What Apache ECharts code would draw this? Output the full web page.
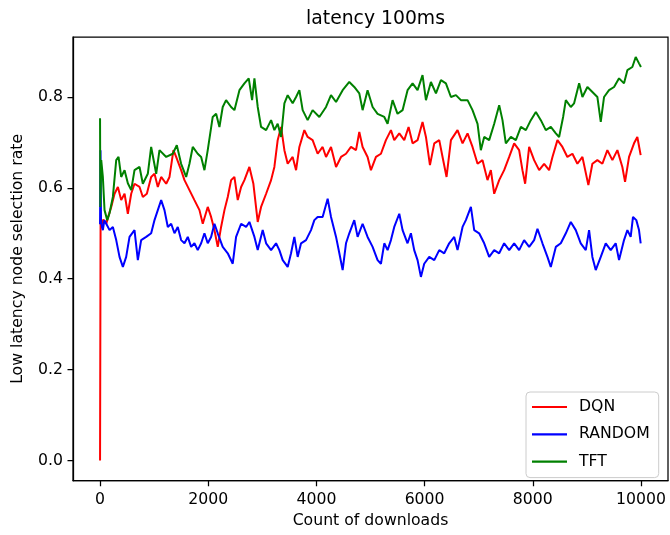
<!DOCTYPE html>
<html>
<head>
<meta charset="utf-8">
<script src="https://cdn.jsdelivr.net/npm/echarts@6/dist/echarts.min.js"></script>
<style>html,body{margin:0;padding:0;background:#fff}#c{width:670px;height:535px}</style>
</head>
<body>
<div id="c"></div>
<script>
var xTicks = [0, 2000, 4000, 6000, 8000, 10000];
var yTicks = [0.0, 0.2, 0.4, 0.6, 0.8];
var seriesNames = ['DQN', 'RANDOM', 'TFT'];

var dqn = [[0,0.0],[10,0.53],[30,0.52],[60,0.53],[115,0.521],[160,0.54],[207,0.558],[268,0.587],[330,0.602],[391,0.573],[453,0.587],[514,0.543],[576,0.587],[637,0.609],[730,0.602],[791,0.580],[865,0.587],[945,0.624],[1007,0.631],[1068,0.602],[1130,0.624],[1223,0.609],[1284,0.624],[1357,0.683],[1407,0.668],[1499,0.639],[1561,0.617],[1653,0.595],[1745,0.573],[1838,0.551],[1899,0.521],[1991,0.558],[2053,0.536],[2115,0.507],[2176,0.470],[2238,0.514],[2300,0.551],[2361,0.580],[2423,0.617],[2484,0.624],[2546,0.573],[2608,0.602],[2669,0.617],[2761,0.646],[2835,0.609],[2915,0.525],[2977,0.558],[3070,0.587],[3162,0.617],[3223,0.646],[3284,0.705],[3347,0.734],[3408,0.683],[3469,0.653],[3561,0.668],[3624,0.639],[3685,0.690],[3777,0.727],[3838,0.712],[3930,0.705],[4023,0.675],[4115,0.690],[4178,0.668],[4270,0.690],[4363,0.646],[4455,0.668],[4547,0.675],[4639,0.690],[4732,0.683],[4793,0.723],[4854,0.690],[4946,0.668],[5008,0.639],[5101,0.668],[5193,0.675],[5285,0.705],[5378,0.727],[5439,0.705],[5532,0.720],[5624,0.705],[5704,0.734],[5778,0.698],[5870,0.705],[5962,0.745],[6025,0.712],[6099,0.650],[6179,0.698],[6271,0.705],[6332,0.668],[6406,0.624],[6487,0.705],[6609,0.727],[6702,0.698],[6794,0.720],[6886,0.690],[6979,0.653],[7071,0.661],[7163,0.617],[7225,0.639],[7287,0.587],[7379,0.617],[7471,0.639],[7564,0.668],[7656,0.698],[7748,0.683],[7809,0.639],[7859,0.609],[7933,0.690],[8025,0.661],[8118,0.639],[8210,0.653],[8302,0.639],[8364,0.668],[8456,0.705],[8548,0.690],[8640,0.668],[8733,0.675],[8825,0.653],[8918,0.668],[9028,0.606],[9102,0.653],[9194,0.661],[9287,0.653],[9379,0.683],[9472,0.661],[9564,0.683],[9656,0.646],[9706,0.613],[9780,0.668],[9872,0.698],[9933,0.712],[9995,0.672]];

var random = [[0,0.52],[8,0.683],[18,0.53],[35,0.514],[52,0.507],[80,0.529],[115,0.521],[176,0.507],[237,0.514],[299,0.485],[360,0.448],[422,0.426],[483,0.448],[545,0.492],[637,0.507],[699,0.441],[760,0.485],[853,0.492],[945,0.500],[1007,0.529],[1068,0.551],[1130,0.573],[1191,0.551],[1253,0.514],[1315,0.521],[1376,0.500],[1437,0.514],[1499,0.485],[1561,0.478],[1622,0.492],[1684,0.470],[1745,0.478],[1806,0.463],[1869,0.478],[1930,0.500],[1991,0.478],[2053,0.492],[2115,0.521],[2176,0.500],[2268,0.470],[2361,0.456],[2453,0.433],[2515,0.492],[2608,0.521],[2700,0.514],[2761,0.525],[2854,0.492],[2915,0.463],[3007,0.507],[3070,0.478],[3162,0.463],[3254,0.478],[3315,0.463],[3377,0.441],[3469,0.426],[3531,0.456],[3592,0.492],[3654,0.448],[3716,0.478],[3808,0.485],[3900,0.507],[3962,0.529],[4023,0.536],[4115,0.536],[4208,0.576],[4270,0.536],[4363,0.492],[4424,0.456],[4485,0.419],[4547,0.478],[4608,0.500],[4700,0.529],[4762,0.492],[4854,0.521],[4946,0.492],[5039,0.470],[5131,0.441],[5193,0.433],[5255,0.478],[5316,0.463],[5378,0.485],[5439,0.514],[5532,0.543],[5593,0.507],[5685,0.478],[5747,0.500],[5808,0.463],[5870,0.441],[5932,0.404],[5993,0.433],[6086,0.448],[6179,0.441],[6271,0.463],[6363,0.456],[6455,0.478],[6548,0.492],[6609,0.463],[6702,0.514],[6763,0.529],[6856,0.558],[6917,0.507],[7009,0.500],[7102,0.478],[7194,0.448],[7287,0.463],[7379,0.456],[7471,0.478],[7564,0.463],[7656,0.478],[7748,0.463],[7840,0.485],[7933,0.470],[8025,0.485],[8087,0.510],[8179,0.478],[8271,0.448],[8333,0.426],[8426,0.470],[8518,0.478],[8611,0.500],[8703,0.525],[8795,0.507],[8887,0.478],[8980,0.463],[9041,0.507],[9102,0.448],[9164,0.419],[9257,0.448],[9349,0.478],[9441,0.463],[9533,0.478],[9595,0.441],[9687,0.485],[9749,0.507],[9810,0.492],[9853,0.536],[9914,0.529],[9964,0.507],[9995,0.478]];

var tft = [[0,0.753],[5,0.558],[22,0.661],[52,0.624],[83,0.551],[133,0.529],[175,0.544],[237,0.58],[299,0.661],[342,0.668],[391,0.624],[453,0.639],[514,0.61],[576,0.595],[637,0.639],[730,0.646],[791,0.609],[883,0.631],[945,0.690],[1038,0.631],[1099,0.683],[1223,0.668],[1345,0.675],[1419,0.694],[1499,0.653],[1592,0.624],[1653,0.653],[1714,0.690],[1806,0.675],[1869,0.668],[1930,0.639],[1991,0.683],[2083,0.756],[2146,0.763],[2207,0.734],[2268,0.778],[2330,0.793],[2423,0.778],[2484,0.771],[2577,0.815],[2669,0.830],[2749,0.841],[2811,0.793],[2854,0.841],[2915,0.778],[2977,0.734],[3070,0.727],[3162,0.749],[3223,0.727],[3284,0.741],[3347,0.712],[3408,0.786],[3469,0.804],[3561,0.786],[3624,0.800],[3685,0.815],[3746,0.771],[3838,0.749],[3930,0.771],[4054,0.756],[4178,0.778],[4270,0.804],[4363,0.789],[4485,0.815],[4608,0.833],[4700,0.822],[4793,0.808],[4854,0.771],[4946,0.815],[5039,0.778],[5131,0.763],[5255,0.756],[5316,0.741],[5408,0.793],[5500,0.763],[5593,0.771],[5685,0.815],[5778,0.830],[5870,0.815],[5962,0.848],[6025,0.793],[6117,0.833],[6210,0.808],[6302,0.837],[6394,0.830],[6487,0.800],[6579,0.804],[6671,0.793],[6794,0.793],[6886,0.771],[6979,0.741],[7040,0.683],[7102,0.712],[7194,0.705],[7287,0.741],[7379,0.782],[7440,0.749],[7502,0.698],[7595,0.712],[7687,0.705],[7780,0.734],[7872,0.727],[7964,0.749],[8057,0.767],[8149,0.749],[8241,0.727],[8334,0.734],[8426,0.720],[8487,0.712],[8561,0.756],[8611,0.793],[8703,0.778],[8764,0.786],[8857,0.830],[8918,0.800],[9010,0.822],[9102,0.811],[9194,0.800],[9257,0.745],[9318,0.800],[9410,0.815],[9503,0.822],[9595,0.841],[9687,0.830],[9749,0.859],[9841,0.866],[9903,0.888],[9964,0.874],[10000,0.866]];

var FONT = 'DejaVu Sans';
var chart = echarts.init(document.getElementById('c'), null, {renderer: 'canvas'});
var lineIcon = 'path://M0,0L35,0L35,2.2L0,2.2Z';
chart.setOption({
  animation: false,
  backgroundColor: '#ffffff',
  title: {
    text: 'latency 100ms',
    left: 370.5, top: 5, textAlign: 'center',
    textStyle: {fontFamily: FONT, fontSize: 18.8, fontWeight: 'normal', color: '#000'}
  },
  grid: {left: 73, right: 2, top: 37, bottom: 54.3, show: true, borderColor: '#000', borderWidth: 1.25, backgroundColor: 'transparent'},
  legend: {
    orient: 'vertical', left: 526, top: 392,
    data: seriesNames.map(function (n) { return {name: n, icon: lineIcon}; }),
    itemWidth: 35, itemHeight: 14, itemGap: 11.3,
    padding: [7, 9, 8, 6],
    borderColor: '#cccccc', borderWidth: 1, borderRadius: 4,
    backgroundColor: 'rgba(255,255,255,0.8)',
    textStyle: {fontFamily: FONT, fontSize: 15.7, color: '#000', padding: [0, 0, 0, 7]}
  },
  xAxis: {
    type: 'value', min: -500, max: 10500,
    name: 'Count of downloads', nameLocation: 'middle', nameGap: 32,
    nameTextStyle: {fontFamily: FONT, fontSize: 15.7, color: '#000'},
    axisLine: {show: true, onZero: false, lineStyle: {color: '#000', width: 1.25}},
    axisTick: {show: true, customValues: xTicks, length: 5.5, inside: false, lineStyle: {color: '#000', width: 1.25}},
    axisLabel: {customValues: xTicks, margin: 11, fontFamily: FONT, fontSize: 15.7, color: '#000', formatter: function (v) { return String(v); }},
    splitLine: {show: false}
  },
  yAxis: {
    type: 'value', min: -0.0445, max: 0.932,
    name: 'Low latency node selection rate', nameLocation: 'middle', nameGap: 47, nameRotate: 90,
    nameTextStyle: {fontFamily: FONT, fontSize: 15.7, color: '#000'},
    axisLine: {show: true, onZero: false, lineStyle: {color: '#000', width: 1.25}},
    axisTick: {show: true, customValues: yTicks, length: 5.5, inside: false, lineStyle: {color: '#000', width: 1.25}},
    axisLabel: {customValues: yTicks, margin: 10, fontFamily: FONT, fontSize: 15.7, color: '#000', formatter: function (v) { return v.toFixed(1); }},
    splitLine: {show: false}
  },
  series: [
    {name: 'DQN', type: 'line', data: dqn, showSymbol: false, symbol: 'none', color: '#ff0000', lineStyle: {color: '#ff0000', width: 2}},
    {name: 'RANDOM', type: 'line', data: random, showSymbol: false, symbol: 'none', color: '#0000ff', lineStyle: {color: '#0000ff', width: 2}},
    {name: 'TFT', type: 'line', data: tft, showSymbol: false, symbol: 'none', color: '#008000', lineStyle: {color: '#008000', width: 2}}
  ]
});
</script>
</body>
</html>
